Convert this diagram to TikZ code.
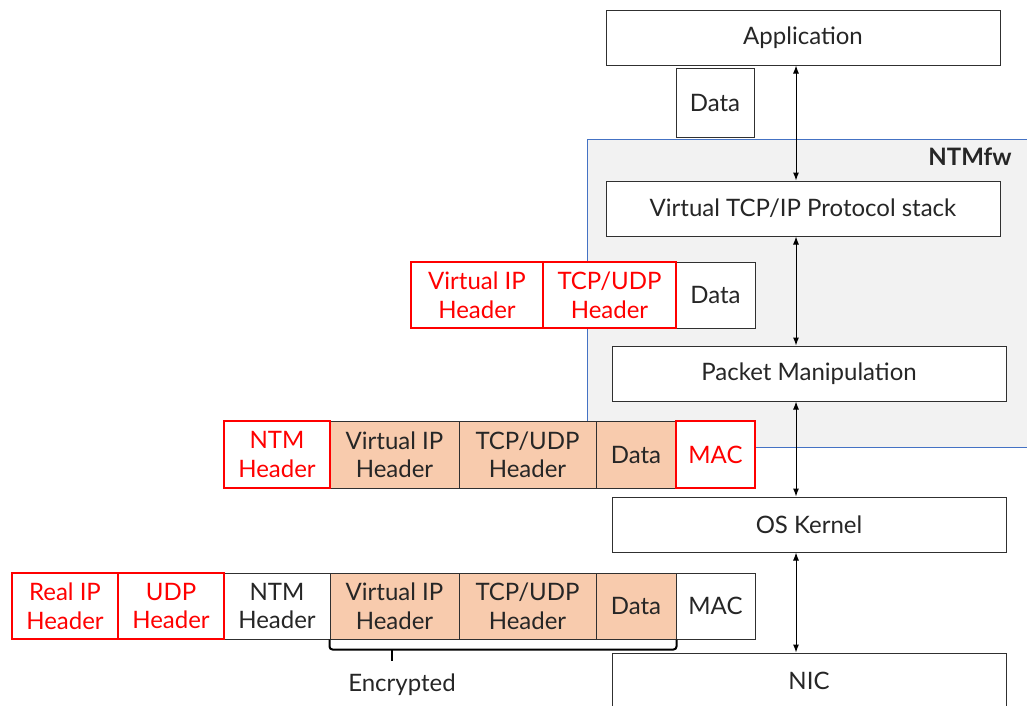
\documentclass[tikz,border=0pt]{standalone}
\usepackage{fontspec}
\setmainfont{Lato}
\usetikzlibrary{arrows.meta}
\definecolor{ntmblue}{HTML}{4472C4}
\definecolor{ntmgray}{HTML}{F2F2F2}
\definecolor{encfill}{HTML}{F8CBAD}
\definecolor{ntmred}{HTML}{FF0000}
\definecolor{edgec}{HTML}{303030}
\newcommand\cellat[7]{\node[#2, minimum width={(#5-#3)*1pt}, minimum height={(#6-#4)*1pt}] (#1) at ({(#3+#5)/2},{(#4+#6)/2}) {#7};}
\begin{document}
\begin{tikzpicture}[x=1pt,y=-1pt, font=\fontsize{24}{28.5}\selectfont,
 cell/.style={draw=edgec, line width=1pt, fill=white, inner sep=0pt, align=center, text=black!85},
 redcell/.style={cell, draw=ntmred, line width=1.4pt, text=ntmred},
 enc/.style={cell, fill=encfill},
 link/.style={{Latex[length=8pt,width=6pt]}-{Latex[length=8pt,width=6pt]}, line width=1pt, black},
 region/.style={fill=ntmgray, draw=ntmblue, line width=1pt},
 brace/.style={line width=2pt, black, rounded corners=3pt}]
\clip (0,0) rectangle (1027,705);
% NTMfw region
\draw[region] (587,139) rectangle (1060,447);
\node[anchor=east, font=\fontsize{24}{28}\selectfont\bfseries, text=black!85] (ntmlabel) at (1015,157) {NTMfw};
% layers
\cellat{app}{cell}{606}{10}{1000}{65}{Application}
\cellat{vtcp}{cell}{606}{181}{1000}{236}{Virtual TCP/IP Protocol stack}
\cellat{pm}{cell}{612}{346}{1006}{401}{Packet Manipulation}
\cellat{os}{cell}{612}{497}{1006}{552}{OS Kernel}
\cellat{nic}{cell}{612}{653}{1006}{725}{}
\node[text=black!85] (nictext) at (809,681) {NIC};
% top data
\cellat{tdata}{cell}{676}{68}{754}{137}{Data}
% row 1
\cellat{adata}{cell}{676}{262}{755}{328}{Data}
\cellat{avip}{redcell}{411}{262}{543}{328}{Virtual IP\\Header}
\cellat{atcp}{redcell}{543}{262}{676}{328}{TCP/UDP\\Header}
% row 2
\cellat{bvip}{enc}{330}{421}{459}{488}{Virtual IP\\Header}
\cellat{btcp}{enc}{459}{421}{596}{488}{TCP/UDP\\Header}
\cellat{bdata}{enc}{596}{421}{676}{488}{Data}
\cellat{bntm}{redcell}{224}{421}{330}{488}{NTM\\Header}
\cellat{bmac}{redcell}{676}{421}{755}{488}{MAC}
% row 3
\cellat{cntm}{cell}{224}{573}{330}{639}{NTM\\Header}
\cellat{cvip}{enc}{330}{573}{459}{639}{Virtual IP\\Header}
\cellat{ctcp}{enc}{459}{573}{596}{639}{TCP/UDP\\Header}
\cellat{cdata}{enc}{596}{573}{676}{639}{Data}
\cellat{cmac}{cell}{676}{573}{755}{639}{MAC}
\cellat{creal}{redcell}{12}{573}{118}{639}{Real IP\\Header}
\cellat{cudp}{redcell}{118}{573}{224}{639}{UDP\\Header}
% arrows
\coordinate (axis) at (796,0);
\draw[link] (app.south -| axis) -- (vtcp.north -| axis);
\draw[link] (vtcp.south -| axis) -- (pm.north -| axis);
\draw[link] (pm.south -| axis) -- (os.north -| axis);
\draw[link] (os.south -| axis) -- (nic.north -| axis);
% brace
\draw[brace] (cvip.south west) -- ++(0,10) -| (cdata.south east);
\coordinate (bracetip) at (392,649);
\draw[line width=2pt] (bracetip) -- ++(0,12);
\node[text=black!85] (enclabel) at (402,685) {Encrypted};
\end{tikzpicture}
\end{document}
